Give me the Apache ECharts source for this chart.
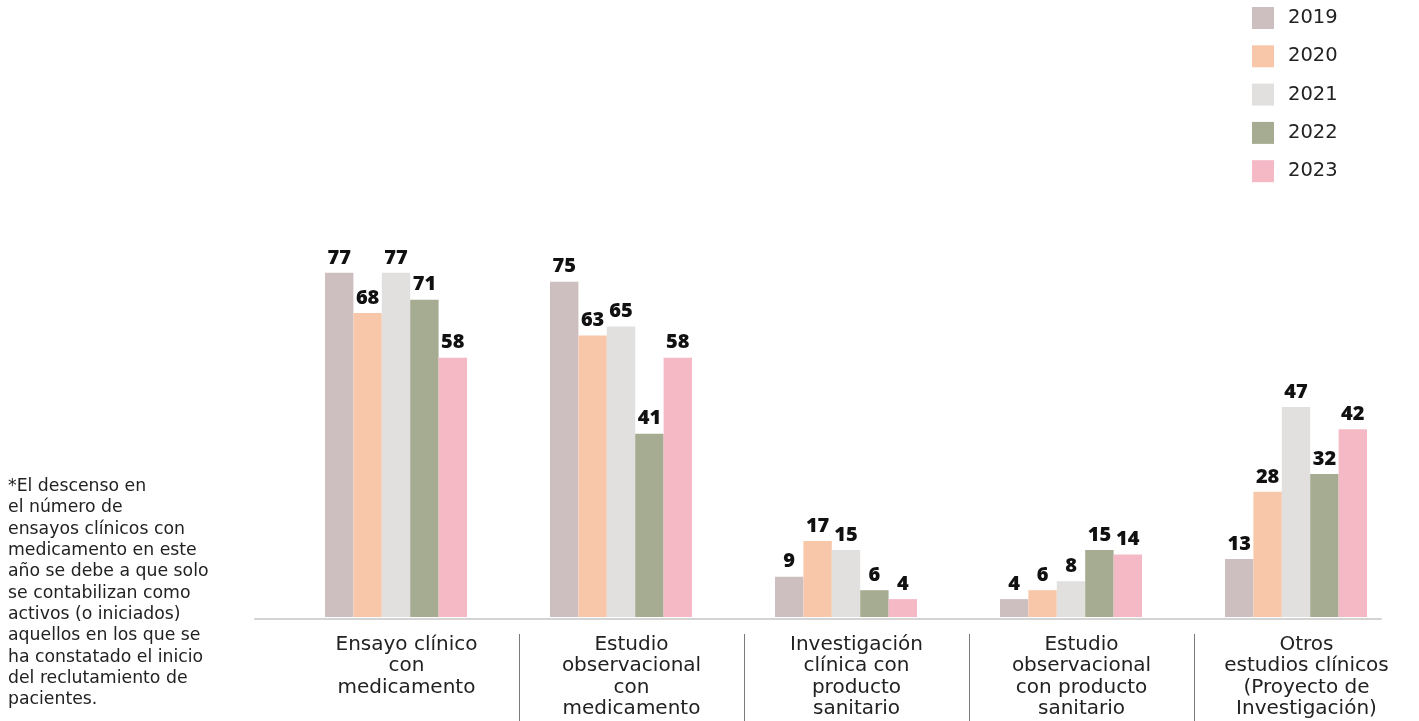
<!DOCTYPE html>
<html>
<head>
<meta charset="utf-8">
<style>
html,body{margin:0;padding:0;background:#fff;}
#c{width:1419px;height:721px;}
</style>
<script src="https://cdn.jsdelivr.net/npm/echarts@6/dist/echarts.min.js"></script>
</head>
<body>
<div id="c"></div>
<script>
const categories = [
  "Ensayo clínico\ncon\nmedicamento",
  "Estudio\nobservacional\ncon\nmedicamento",
  "Investigación\nclínica con\nproducto\nsanitario",
  "Estudio\nobservacional\ncon producto\nsanitario",
  "Otros\nestudios clínicos\n(Proyecto de\nInvestigación)"
];
const years = ["2019", "2020", "2021", "2022", "2023"];
const v2019 = [77, 75, 9, 4, 13];
const v2020 = [68, 63, 17, 6, 28];
const v2021 = [77, 65, 15, 8, 47];
const v2022 = [71, 41, 6, 15, 32];
const v2023 = [58, 58, 4, 14, 42];
const seriesValues = [v2019, v2020, v2021, v2022, v2023];
const colors = ["#cdbfc0", "#f8c7aa", "#e1e0de", "#a6ac92", "#f5b9c6"];
const footnote = "*El descenso en\nel número de\nensayos clínicos con\nmedicamento en este\naño se debe a que solo\nse contabilizan como\nactivos (o iniciados)\naquellos en los que se\nha constatado el inicio\ndel reclutamiento de\npacientes.";

const FONT = "DejaVu Sans";
const BOLD = "Open Sans";
const chart = echarts.init(document.getElementById('c'), null, {renderer: 'canvas'});
chart.setOption({
  animation: false,
  textStyle: {fontFamily: FONT},
  color: colors,
  title: {
    text: footnote,
    left: 3, top: 471,
    textStyle: {fontFamily: FONT, fontSize: 17.3, fontWeight: 'normal', color: '#222', lineHeight: 21.3}
  },
  legend: {
    orient: 'vertical',
    left: 1252, top: 7,
    padding: 0,
    itemWidth: 22, itemHeight: 22, itemGap: 16.3,
    icon: 'rect',
    data: years,
    textStyle: {fontFamily: FONT, fontSize: 19.5, color: '#222', padding: [0, 0, 0, 9]}
  },
  grid: [
    {left: 283.5, width: 1125, top: 170, bottom: 104},
    {left: 294, width: 1125, top: 634, height: 87},
    {left: 255, width: 1126, top: 617.5, height: 1}
  ],
  xAxis: [
    {type: 'category', gridIndex: 0, data: categories,
     axisLine: {show: false}, axisTick: {show: false}, axisLabel: {show: false}},
    {type: 'category', gridIndex: 1, data: categories, position: 'top',
     axisLine: {show: false}, axisTick: {show: false},
     axisLabel: {inside: true, margin: 0, fontFamily: FONT, fontSize: 20, lineHeight: 21.5, color: '#222', interval: 0},
     splitLine: {show: true, showMinLine: false, showMaxLine: false, lineStyle: {color: '#7a7a7a', width: 1}}},
    {type: 'value', gridIndex: 2, min: 0, max: 1, show: true,
     axisLine: {show: true, onZero: false, lineStyle: {color: '#d4d4d4', width: 2}},
     axisTick: {show: false}, axisLabel: {show: false}, splitLine: {show: false}}
  ],
  yAxis: [
    {type: 'value', gridIndex: 0, min: 0, max: 100, show: false},
    {type: 'value', gridIndex: 1, show: false},
    {type: 'value', gridIndex: 2, show: false}
  ],
  series: years.map((y, i) => ({
    name: y, type: 'bar', xAxisIndex: 0, yAxisIndex: 0,
    data: seriesValues[i],
    barWidth: 28.4, barGap: '0%',
    itemStyle: {color: colors[i]},
    label: {show: true, position: 'top', distance: 5, fontFamily: BOLD, fontWeight: 800, fontSize: 20, color: '#111'}
  }))
});
</script>
</body>
</html>
